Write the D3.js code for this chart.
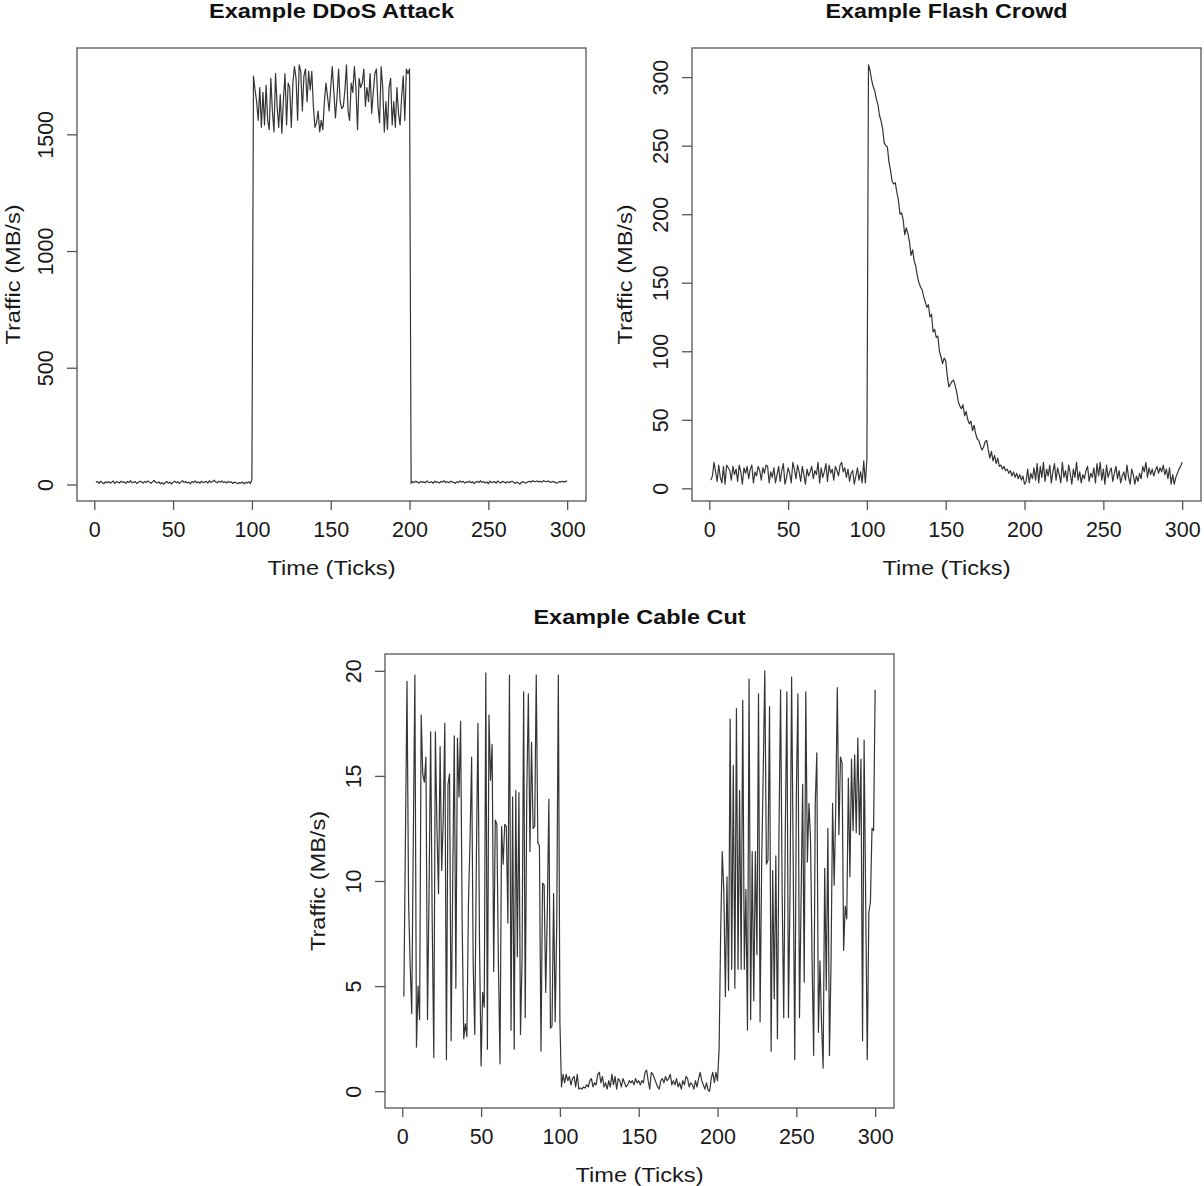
<!DOCTYPE html>
<html>
<head>
<meta charset="utf-8">
<script src="https://cdn.jsdelivr.net/npm/d3@7"></script>
<style>
  html, body { margin: 0; padding: 0; background: #fff; }
  svg { display: block; }
</style>
</head>
<body>
<svg id="chart" width="1204" height="1186"></svg>
<script>
// ---------------- DATA ----------------
const xTickValues = [0, 50, 100, 150, 200, 250, 300];
const ddosTickValues = [0, 500, 1000, 1500];
const flashTickValues = [0, 50, 100, 150, 200, 250, 300];
const cableTickValues = [0, 5, 10, 15, 20];

const titles = ["Example DDoS Attack", "Example Flash Crowd", "Example Cable Cut"];
const xLabel = "Time (Ticks)";
const yLabel = "Traffic (MB/s)";

// DDoS: ticks 1..100, 101..200, 201..300
const ddosBefore = [
  10,12,5,14,8,3,11,7,13,6,
  9,15,4,12,10,6,14,9,11,5,
  13,8,16,7,10,12,4,9,14,11,
  6,13,8,15,10,5,12,17,9,6,
  11,3,8,1,7,13,5,10,2,9,
  14,7,12,4,11,16,8,13,6,10,
  3,12,9,15,7,11,5,14,8,10,
  13,6,16,9,12,18,11,7,14,10,
  15,8,12,6,13,9,11,4,10,7,
  3,8,5,11,2,9,6,12,4,20
];
const ddosAttack = [
  1750,1690,1640,1560,1700,1530,1680,1540,1710,1560,
  1520,1740,1600,1510,1760,1620,1530,1670,1505,1650,
  1760,1540,1720,1700,1530,1720,1790,1740,1560,1798,
  1770,1600,1750,1780,1640,1770,1690,1770,1620,1530,
  1550,1600,1510,1560,1520,1640,1720,1660,1600,1700,
  1790,1680,1570,1660,1780,1640,1610,1620,1690,1798,
  1600,1560,1720,1680,1790,1700,1520,1740,1700,1720,
  1780,1620,1700,1640,1760,1590,1680,1760,1780,1620,
  1550,1790,1700,1510,1640,1520,1700,1740,1540,1640,
  1530,1700,1590,1540,1660,1750,1560,1780,1760,1780
];
const ddosAfter = [
  5,12,8,14,10,6,13,9,11,7,
  15,10,8,12,5,14,9,11,6,13,
  10,16,8,12,7,14,11,9,5,12,
  8,15,10,13,6,11,9,14,7,12,
  4,10,13,8,16,9,12,6,11,3,
  14,8,10,12,5,15,9,7,13,10,
  6,12,8,11,14,9,4,10,7,1,
  9,12,8,6,11,14,10,16,13,12,
  15,11,14,10,16,13,12,15,11,9,
  13,10,6,8,12,11,14,10,13,16
];

// Flash crowd
const flashBefore = [
  6,9,19,12,5,17,8,4,16,3,
  17,15,13,6,16,10,14,5,17,12,
  3,15,11,16,7,14,17,4,12,9,
  16,13,6,15,11,17,16,4,12,8,
  15,4,10,16,5,13,18,3,8,15,
  11,4,19,14,7,17,12,5,16,10,
  3,14,9,12,16,7,13,10,19,4,
  15,8,12,18,5,17,11,14,6,16,
  13,9,17,19,12,15,8,14,5,11,
  13,3,9,15,6,12,4,20,4,21
];
const flashSurge = [
  309,305,298,293,290,284,280,272,268,262,
  252,250,249,238,232,224,222,223,216,210,
  200,201,196,185,190,186,180,170,174,166,
  162,155,150,147,145,140,136,132,134,125,
  127,114,116,110,111,100,96,91,95,93,
  82,74,76,78,79,75,70,63,60,58,
  61,53,56,50,47,49,42,46,40,36,
  35,31,28,30,34,35,28,22,27,20,
  24,18,22,16,17,14,16,13,14,11,
  13,9,12,8,11,7,10,6,9,3
];
const flashAfter = [
  5,14,4,11,7,15,6,18,4,16,
  8,19,5,14,9,17,4,12,18,6,
  15,10,4,19,8,13,5,17,11,3,
  14,8,19,6,12,4,10,7,13,16,
  5,11,8,15,4,18,9,19,6,14,
  3,17,8,12,15,5,11,16,7,13,
  4,9,12,6,17,8,3,14,10,3,
  9,5,11,7,16,12,19,8,15,10,
  14,9,13,16,11,15,12,17,10,14,
  7,15,3,10,3,8,11,14,16,19
];

// Cable cut
const cableBefore = [
  4.5,12.0,19.5,9.0,6.0,3.7,12.0,19.8,2.1,5.0,
  3.4,17.9,15.1,14.7,15.9,3.4,9.5,17.1,8.0,1.6,
  17.1,12.5,9.4,16.4,10.5,13.0,17.5,1.5,14.6,15.1,
  2.4,10.0,16.9,4.9,16.8,14.0,17.6,8.0,2.5,3.2,
  2.6,9.0,12.0,15.9,6.0,2.7,11.0,17.5,7.0,1.2,
  4.7,4.0,19.9,2.0,17.9,14.8,16.5,5.7,12.9,12.7,
  6.0,1.3,12.6,10.8,12.7,12.6,8.0,19.8,2.9,14.0,
  2.0,14.3,6.4,14.2,2.7,6.3,19.0,3.5,14.2,18.9,
  11.4,16.6,12.5,12.6,19.8,11.8,11.7,1.9,9.9,9.8,
  4.7,8.5,13.9,3.0,3.1,9.4,3.3,8.0,19.8,3.3
];
const cableOutage = [
  0.2,0.8,0.4,0.8,0.5,0.7,0.3,0.6,0.7,0.2,
  0.8,0.1,0.15,0.1,0.2,0.15,0.3,0.2,0.5,0.6,
  0.2,0.4,0.3,0.8,0.9,0.4,0.7,0.2,0.4,0.1,
  0.5,0.2,0.8,0.3,0.7,0.1,0.6,0.5,0.2,0.6,
  0.4,0.2,0.3,0.5,0.4,0.5,0.3,0.6,0.4,0.5,
  0.3,0.5,0.4,0.9,1.0,0.5,0.1,0.9,0.8,0.6,
  0.4,0.2,0.1,0.5,0.6,0.4,0.7,0.5,0.6,0.8,
  0.3,0.5,0.3,0.6,0.2,0.4,0.1,0.5,0.3,0.7,
  0.6,0.2,0.4,0.3,0.1,0.5,0.2,0.6,0.9,0.5,
  0.3,0.1,0.4,0.05,0.0,0.6,0.9,0.4,0.9,0.5
];
const cableAfter = [
  2.0,7.6,11.4,9.5,4.5,10.2,4.8,17.7,5.8,15.5,
  4.9,18.2,5.8,14.3,5.8,18.6,5.8,9.6,2.9,19.6,
  3.4,11.4,4.3,11.4,6.5,18.9,3.3,10.8,15.2,20.0,
  10.8,11.0,18.3,1.9,10.5,4.4,11.2,2.5,12.4,19.1,
  9.4,3.5,12.4,19.0,3.5,9.5,19.7,11.0,1.5,14.0,
  18.9,3.5,9.1,14.6,5.2,19.0,10.9,13.7,12.0,6.2,
  1.7,13.7,16.1,2.8,6.2,3.2,1.1,10.6,4.8,12.5,
  1.7,6.0,13.7,9.8,13.5,19.2,12.2,15.9,15.6,6.7,
  8.8,8.2,14.9,10.2,15.8,12.4,16.0,12.3,16.8,12.2,
  15.8,2.4,16.7,9.0,1.5,8.5,9.0,12.5,12.4,19.1
];

const ddosValues = ddosBefore.concat(ddosAttack, ddosAfter);
const flashValues = flashBefore.concat(flashSurge, flashAfter);
const cableValues = cableBefore.concat(cableOutage, cableAfter);

// ---------------- DRAWING ----------------
const FONT = "'Liberation Sans', Arial, Helvetica, sans-serif";
const svg = d3.select("#chart");

const panels = [
  { title: titles[0], titleLen: 245, yLabX: 20, values: ddosValues,  yTicks: ddosTickValues,  box: { x0: 77,  x1: 586,  y0: 48,  y1: 501 } },
  { title: titles[1], titleLen: 242, yLabX: 632, values: flashValues, yTicks: flashTickValues, box: { x0: 692, x1: 1201, y0: 48,  y1: 501 } },
  { title: titles[2], titleLen: 212, yLabX: 325, values: cableValues, yTicks: cableTickValues, box: { x0: 385, x1: 894,  y0: 654, y1: 1108 } }
];

function drawPanel(p) {
  const { x0, x1, y0, y1 } = p.box;
  const n = p.values.length;
  const xs = d3.scaleLinear()
    .domain([1 - 0.04 * (n - 1), n + 0.04 * (n - 1)])
    .range([x0, x1]);
  const [mn, mx] = d3.extent(p.values);
  const r = mx - mn;
  const ys = d3.scaleLinear()
    .domain([mn - 0.04 * r, mx + 0.04 * r])
    .range([y1, y0]);

  const g = svg.append("g");

  // data line
  const line = d3.line()
    .x((d, i) => xs(i + 1))
    .y(d => ys(d));
  g.append("path")
    .datum(p.values)
    .attr("fill", "none")
    .attr("stroke", "#353535")
    .attr("stroke-width", 1.2)
    .attr("stroke-linejoin", "round")
    .attr("d", line);

  // box
  g.append("rect")
    .attr("x", x0).attr("y", y0)
    .attr("width", x1 - x0).attr("height", y1 - y0)
    .attr("fill", "none")
    .attr("stroke", "#555")
    .attr("stroke-width", 1.3);

  // x axis
  const xa = g.append("g")
    .attr("transform", `translate(0,${y1})`)
    .call(d3.axisBottom(xs).tickValues(xTickValues).tickSize(9).tickFormat(d3.format("d")));
  xa.select(".domain").remove();
  xa.selectAll(".tick line").attr("stroke", "#555").attr("stroke-width", 1.3);
  xa.selectAll(".tick text")
    .attr("y", 36).attr("dy", null)
    .attr("fill", "#1a1a1a")
    .style("font-family", FONT).style("font-size", "21.5px");

  // y axis
  const ya = g.append("g")
    .attr("transform", `translate(${x0},0)`)
    .call(d3.axisLeft(ys).tickValues(p.yTicks).tickSize(10).tickFormat(d3.format("d")));
  ya.select(".domain").remove();
  ya.selectAll(".tick line").attr("stroke", "#555").attr("stroke-width", 1.3);
  ya.selectAll(".tick text")
    .attr("x", 0).attr("y", 0).attr("dy", null)
    .attr("text-anchor", "middle")
    .attr("transform", "translate(-24,0) rotate(-90)")
    .attr("fill", "#1a1a1a")
    .style("font-family", FONT).style("font-size", "21.5px");

  // title
  g.append("text")
    .attr("x", (x0 + x1) / 2).attr("y", y0 - 30)
    .attr("text-anchor", "middle")
    .attr("textLength", p.titleLen)
    .attr("lengthAdjust", "spacingAndGlyphs")
    .attr("fill", "#111")
    .style("font-family", FONT).style("font-size", "20px").style("font-weight", "bold")
    .text(p.title);

  // x label
  g.append("text")
    .attr("x", (x0 + x1) / 2).attr("y", y1 + 74)
    .attr("text-anchor", "middle")
    .attr("textLength", 128)
    .attr("lengthAdjust", "spacingAndGlyphs")
    .attr("fill", "#1a1a1a")
    .style("font-family", FONT).style("font-size", "20.5px")
    .text(xLabel);

  // y label
  g.append("text")
    .attr("transform", `translate(${p.yLabX},${(y0 + y1) / 2}) rotate(-90)`)
    .attr("text-anchor", "middle")
    .attr("textLength", 140)
    .attr("lengthAdjust", "spacingAndGlyphs")
    .attr("fill", "#1a1a1a")
    .style("font-family", FONT).style("font-size", "20.5px")
    .text(yLabel);
}

panels.forEach(drawPanel);
</script>
</body>
</html>
